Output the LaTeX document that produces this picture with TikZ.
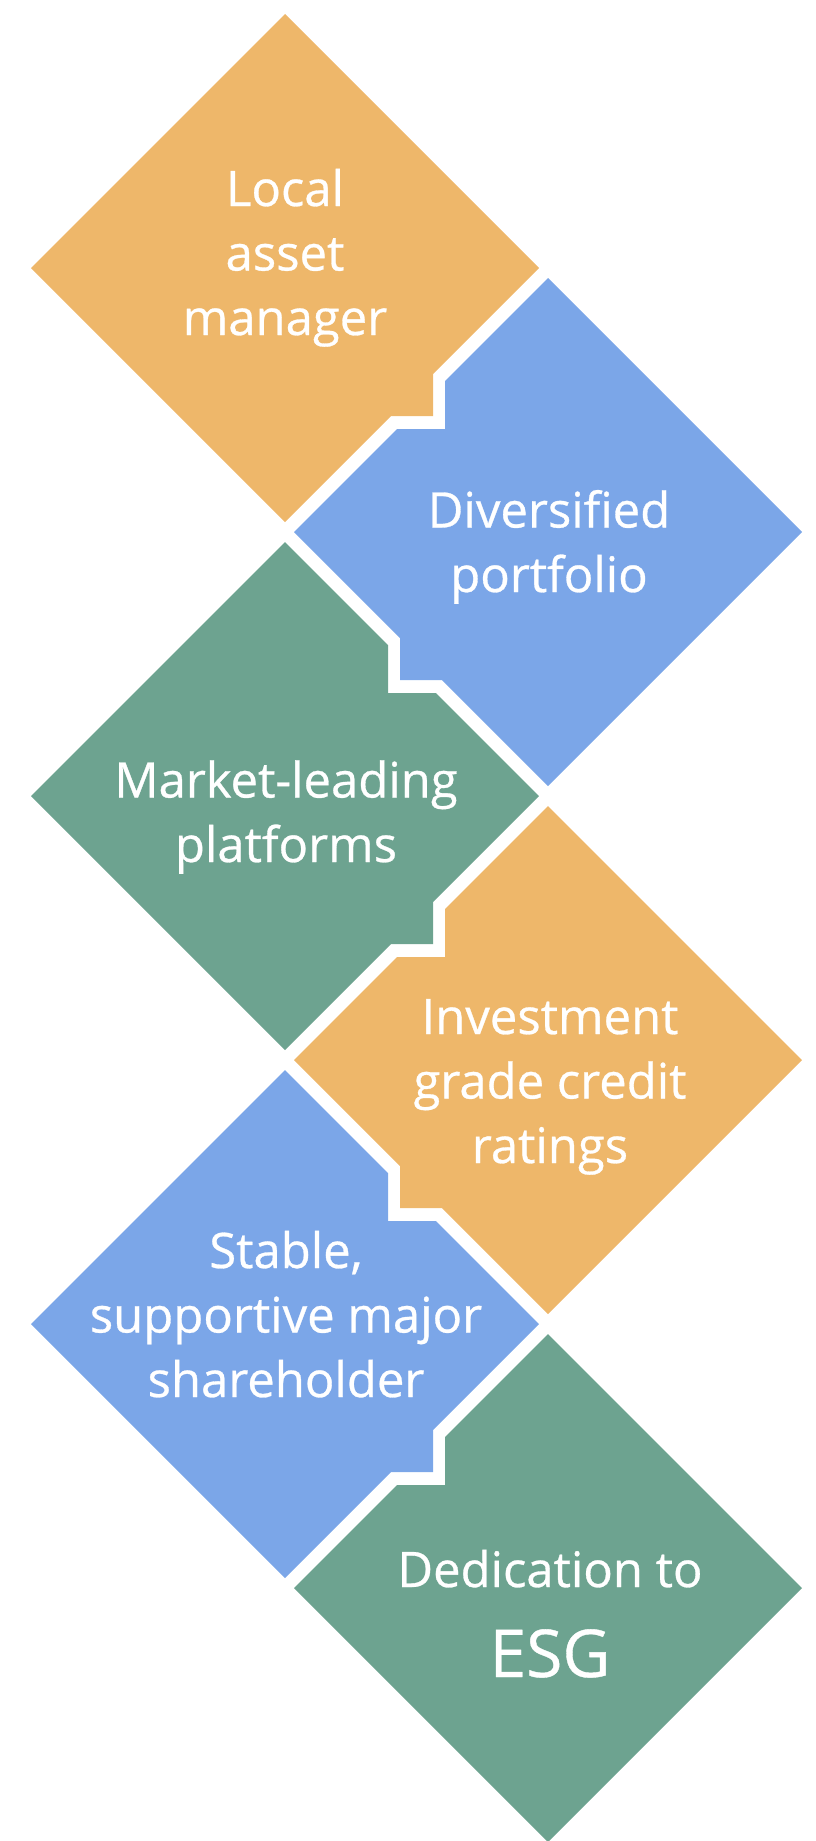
\documentclass[tikz,border=0pt]{standalone}
\usepackage{fontspec}
\setmainfont{Open Sans}
\newfontfamily\lblfont{Open Sans}[FakeBold=0.6]
\definecolor{cOrange}{HTML}{EEB76A}
\definecolor{cBlue}{HTML}{7BA6E8}
\definecolor{cGreen}{HTML}{6DA390}
\begin{document}
\begin{tikzpicture}[x=1pt,y=-1pt,
  tile/.style={draw=none},
  lbl/.style={text=white, align=center, anchor=base, inner sep=0pt,
    font=\lblfont\fontsize{49}{64.5}\selectfont}]
\useasboundingbox (0,0) rectangle (816,1841);
% tiles
\fill[tile,cOrange] (285,14) -- (539,268) -- (433,374) -- (433,416) -- (391,416) -- (285,522) -- (31,268) -- cycle;
\fill[tile,cBlue] (548,278) -- (802,532) -- (548,786) -- (442,680) -- (400,680) -- (400,638) -- (294,532) -- (397,429) -- (445,429) -- (445,381) -- cycle;
\fill[tile,cGreen] (285,542) -- (388,645) -- (388,693) -- (436,693) -- (539,796) -- (433,902) -- (433,944) -- (391,944) -- (285,1050) -- (31,796) -- cycle;
\fill[tile,cOrange] (548,806) -- (802,1060) -- (548,1314) -- (442,1208) -- (400,1208) -- (400,1166) -- (294,1060) -- (397,957) -- (445,957) -- (445,909) -- cycle;
\fill[tile,cBlue] (285,1070) -- (388,1173) -- (388,1221) -- (436,1221) -- (539,1324) -- (433,1430) -- (433,1472) -- (391,1472) -- (285,1578) -- (31,1324) -- cycle;
\fill[tile,cGreen] (548,1334) -- (802,1588) -- (548,1842) -- (294,1588) -- (397,1485) -- (445,1485) -- (445,1437) -- cycle;
% labels (anchor = baseline of the last line)
\node[lbl] (tA) at (285,335) {Local\\asset\\manager};
\node[lbl] (tB) at (549,592) {Diversified\\portfolio};
\node[lbl] (tC) at (286,862) {Market-leading\\platforms};
\node[lbl] (tD) at (550,1163) {Investment\\grade credit\\ratings};
\node[lbl] (tE) at (286,1397) {Stable,\\supportive major\\shareholder};
\node[lbl] (tF) at (550,1677) {Dedication to\\[25.5pt]{\fontsize{66}{66}\selectfont ESG}};
\end{tikzpicture}
\end{document}
